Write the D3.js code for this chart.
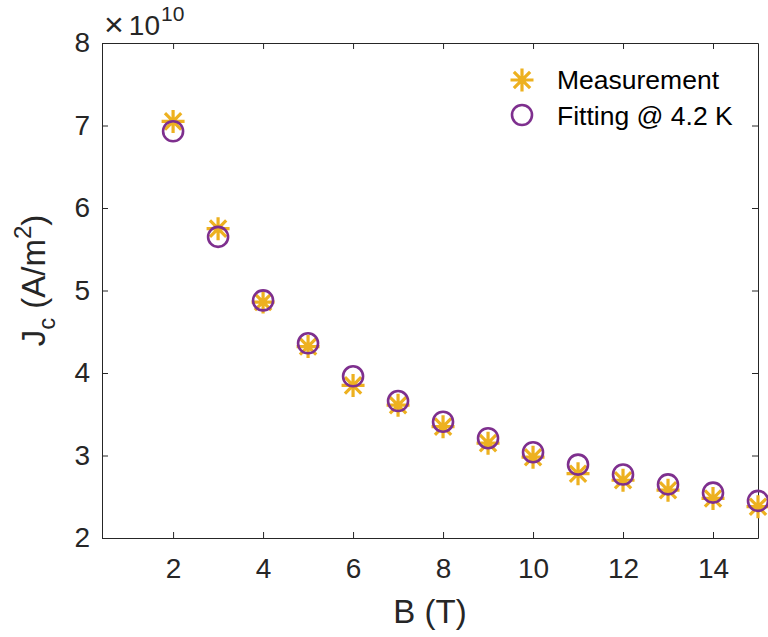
<!DOCTYPE html>
<html>
<head>
<meta charset="utf-8">
<script src="https://cdn.jsdelivr.net/npm/d3@7"></script>
<style>
  body { margin: 0; background: #fff; }
  svg { display: block; font-family: "Liberation Sans", Arial, sans-serif; }
  .axis path, .axis line { stroke: #262626; stroke-width: 1; }
  .axis text { fill: #262626; font-size: 28px; }
</style>
</head>
<body>
<svg id="chart" width="768" height="637"></svg>
<script>
// field values, B in tesla
var fieldB = [2, 3, 4, 5, 6, 7, 8, 9, 10, 11, 12, 13, 14, 15];
// Jc in units of 1e10 A/m^2
var measured = [7.05, 5.75, 4.86, 4.32, 3.85, 3.61, 3.35, 3.15, 2.98, 2.78, 2.70, 2.58, 2.48, 2.38];
var fitted = [6.93, 5.65, 4.88, 4.36, 3.96, 3.66, 3.41, 3.21, 3.04, 2.89, 2.77, 2.65, 2.55, 2.45];
var xTicks = [2, 4, 6, 8, 10, 12, 14];
var yTicks = [2, 3, 4, 5, 6, 7, 8];
var legendLabels = ["Measurement", "Fitting @ 4.2 K"];

var margin = {top: 43, right: 10, bottom: 99, left: 102};
var width = 758 - margin.left;
var height = 538 - margin.top;

var svg = d3.select("#chart");
var chart = svg.append("g")
    .attr("transform", "translate(" + margin.left + "," + margin.top + ")");

var x = d3.scaleLinear().domain([0.42, 15]).range([0, width]);
var y = d3.scaleLinear().domain([2, 8]).range([height, 0]);

// axes, ticks pointing inward like matlab
chart.append("g")
    .attr("class", "axis")
    .attr("transform", "translate(0," + height + ")")
    .call(d3.axisBottom(x).tickValues(xTicks).tickSizeInner(-6).tickSizeOuter(0).tickPadding(20));

chart.append("g")
    .attr("class", "axis")
    .call(d3.axisTop(x).tickValues(xTicks).tickSizeInner(-6).tickSizeOuter(0).tickFormat(""));

chart.append("g")
    .attr("class", "axis")
    .call(d3.axisLeft(y).tickValues(yTicks).tickFormat(d3.format("d"))
        .tickSizeInner(-6).tickSizeOuter(0).tickPadding(12));

chart.append("g")
    .attr("class", "axis")
    .attr("transform", "translate(" + width + ",0)")
    .call(d3.axisRight(y).tickValues(yTicks).tickSizeInner(-6).tickSizeOuter(0).tickFormat(""));

chart.selectAll(".axis .domain").attr("fill", "none");

// asterisk marker = plus + cross
function asterisk(sel, r) {
    var d = r * Math.SQRT1_2;
    sel.append("path")
        .attr("d", "M" + (-r) + ",0H" + r + "M0," + (-r) + "V" + r +
            "M" + (-d) + "," + (-d) + "L" + d + "," + d +
            "M" + (-d) + "," + d + "L" + d + "," + (-d))
        .attr("stroke", "#EDB120")
        .attr("stroke-width", 3.2)
        .attr("fill", "none");
}

var meas = chart.selectAll(".meas")
    .data(fieldB)
    .enter()
    .append("g")
    .attr("class", "meas")
    .attr("transform", function (d, i) {
        return "translate(" + x(d) + "," + y(measured[i]) + ")";
    });
asterisk(meas, 11.5);

chart.selectAll(".fit")
    .data(fieldB)
    .enter()
    .append("circle")
    .attr("class", "fit")
    .attr("cx", function (d) { return x(d); })
    .attr("cy", function (d, i) { return y(fitted[i]); })
    .attr("r", 10)
    .attr("fill", "none")
    .attr("stroke", "#7E2F8E")
    .attr("stroke-width", 2.6);

// exponent label
var expo = svg.append("text")
    .attr("x", 104)
    .attr("y", 35)
    .attr("fill", "#262626")
    .style("font-size", "28px");
expo.append("tspan").style("font-size", "34px").attr("dy", 1).text("\u00d7");
expo.append("tspan").attr("dy", -1).attr("dx", 5).text("10");
expo.append("tspan").attr("dy", -14).attr("dx", 1).style("font-size", "21px").text("10");

// axis titles
svg.append("text")
    .attr("x", margin.left + width / 2)
    .attr("y", 623)
    .attr("text-anchor", "middle")
    .attr("fill", "#262626")
    .style("font-size", "33px")
    .text("B (T)");

var ylab = svg.append("text")
    .attr("transform", "translate(45," + (margin.top + height / 2 - 10) + ") rotate(-90)")
    .attr("text-anchor", "middle")
    .attr("fill", "#262626")
    .style("font-size", "33px");
ylab.append("tspan").text("J");
ylab.append("tspan").attr("dy", 10).style("font-size", "24px").text("c");
ylab.append("tspan").attr("dy", -10).text(" (A/m");
ylab.append("tspan").attr("dy", -14).style("font-size", "24px").text("2");
ylab.append("tspan").attr("dy", 14).text(")");

// legend
var legend = svg.append("g").attr("transform", "translate(522,80)");
asterisk(legend.append("g"), 11.5);
legend.append("circle")
    .attr("cy", 35)
    .attr("r", 10)
    .attr("fill", "none")
    .attr("stroke", "#7E2F8E")
    .attr("stroke-width", 2.6);
legend.selectAll(".lbl")
    .data(legendLabels)
    .enter()
    .append("text")
    .attr("class", "lbl")
    .attr("x", 35)
    .attr("y", function (d, i) { return 9 + i * 36; })
    .attr("fill", "#000")
    .style("font-size", "26.5px")
    .text(function (d) { return d; });
</script>
</body>
</html>
